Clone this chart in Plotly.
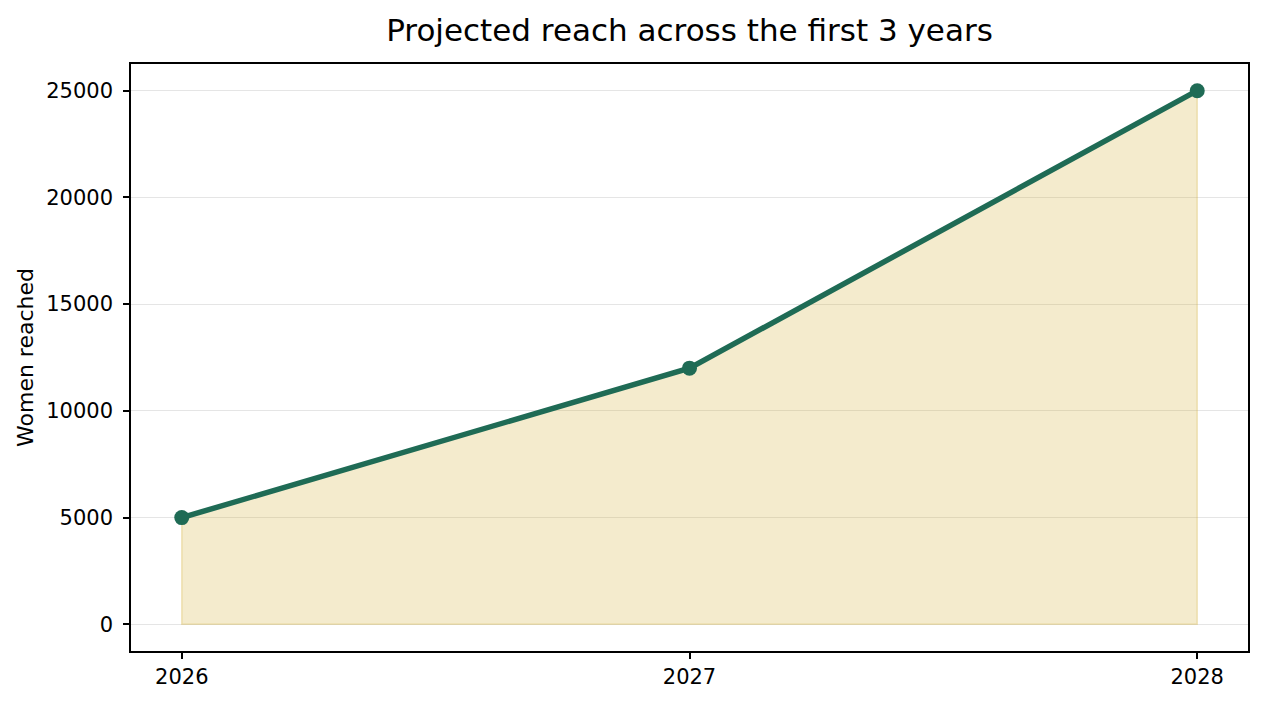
import plotly.graph_objects as go

years = [2026, 2027, 2028]
women_reached = [5000, 12000, 25000]
x_tick_labels = ["2026", "2027", "2028"]
y_tick_values = [0, 5000, 10000, 15000, 20000, 25000]

LINE = "#1F6B55"
FONT = "DejaVu Sans, Liberation Sans, sans-serif"

fig = go.Figure()

# shaded area (polygon closed down to zero, derived from the data)
poly_x = years + [years[-1], years[0], years[0]]
poly_y = women_reached + [0, 0, women_reached[0]]
fig.add_trace(go.Scatter(
    x=poly_x, y=poly_y, mode="lines", fill="toself",
    fillcolor="rgba(212,175,55,0.25)",
    line=dict(color="rgba(212,175,55,0.30)", width=1.5),
    hoverinfo="skip", showlegend=False,
))

fig.add_trace(go.Scatter(
    x=years, y=women_reached, mode="lines+markers",
    line=dict(color=LINE, width=5.5),
    marker=dict(color=LINE, size=15),
    showlegend=False,
))

fig.update_layout(
    width=1264, height=703,
    margin=dict(l=131, r=16, t=64, b=52),
    paper_bgcolor="white", plot_bgcolor="white",
    font=dict(family=FONT, size=21, color="black"),
    title=dict(
        text="Projected reach across the first 3 years",
        x=0.5, xref="paper", xanchor="center",
        y=1 - 30 / 703, yref="container", yanchor="middle",
        font=dict(family=FONT, size=31, color="black"),
    ),
)

fig.update_xaxes(
    range=[2025.9, 2028.1],
    tickmode="array", tickvals=years, ticktext=x_tick_labels,
    showgrid=False, zeroline=False,
    showline=True, linecolor="black", linewidth=1.5, mirror=True,
    ticks="outside", ticklen=6, tickwidth=1.5, tickcolor="black",
    tickfont=dict(size=21),
)
fig.update_yaxes(
    range=[-1250, 26250],
    tickmode="array", tickvals=y_tick_values, tickformat="d",
    showgrid=True, gridcolor="rgba(190,190,190,0.4)", gridwidth=1,
    zeroline=False,
    showline=True, linecolor="black", linewidth=1.5, mirror=True,
    ticks="outside", ticklen=6, tickwidth=1.5, tickcolor="black",
    tickfont=dict(size=21), ticklabelstandoff=6,
    title=dict(text="Women reached", font=dict(size=22), standoff=7),
)

fig.write_html("out.html")
